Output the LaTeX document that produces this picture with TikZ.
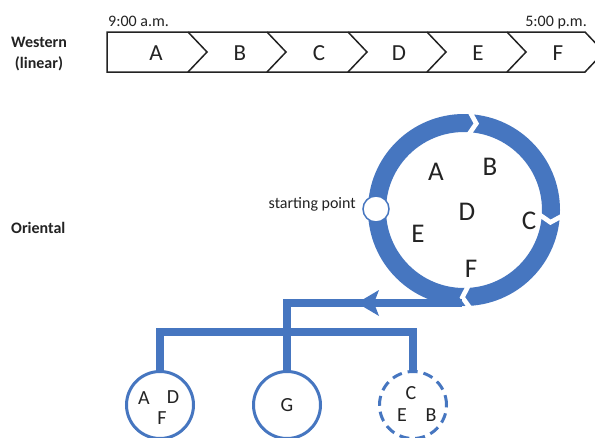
\documentclass[tikz,border=0pt]{standalone}
\usepackage{fontspec}
\setmainfont{Carlito}
\definecolor{oblue}{RGB}{70,118,192}
\definecolor{ink}{RGB}{35,35,35}
\begin{document}
\begin{tikzpicture}[x=1pt,y=1pt,
  lbl/.style={font=\fontsize{16}{18}\selectfont, text=ink, inner sep=0},
  side/.style={font=\fontsize{16}{18}\selectfont\bfseries, text=ink, inner sep=0, align=center},
  barlet/.style={font=\fontsize{23}{26}\selectfont, text=ink, inner sep=0},
  ringlet/.style={font=\fontsize{27}{30}\selectfont, text=ink, inner sep=0},
  leaflet/.style={font=\fontsize{20}{22}\selectfont, text=ink, inner sep=0},
  bline/.style={draw=ink, line width=1.5, line join=miter},
  conn/.style={draw=oblue, line width=7.5},
  leaf/.style={circle, draw=oblue, line width=3, minimum size=67, inner sep=0, outer sep=0, fill=white},
  gapcut/.style={fill=white}
]
\clip (0,0) rectangle (595,-437);
\fill[white] (0,0) rectangle (595,-437);

% side labels
\node[side] (west) at (39,-54) {Western\\[3pt](linear)};
\node[side, anchor=west] (orient) at (11,-228) {Oriental};

% linear bar
\node[lbl, anchor=base west] (t9) at (108,-26) {9:00 a.m.};
\node[lbl, anchor=base east] (t5) at (587,-26) {5:00 p.m.};
\draw[bline] (107,-32) -- (585,-32) -- (604,-52) -- (585,-72) -- (107,-72) -- cycle;
\foreach \x in {188,267,348,427,507} {
  \draw[bline] (\x,-32) -- (\x+19,-52) -- (\x,-72);
}
\node[barlet] (bA) at (156,-53) {A};
\node[barlet] (bB) at (240,-53) {B};
\node[barlet] (bC) at (319,-53) {C};
\node[barlet] (bD) at (399,-53) {D};
\node[barlet] (bE) at (478,-53) {E};
\node[barlet] (bF) at (558,-53) {F};

% ring
\node[circle, draw=oblue, line width=18, minimum size=174, inner sep=0, outer sep=0] (ring) at (464,-210) {};
\foreach \a in {87,-3,-86} {
  \fill[gapcut, shift={(ring.center)}, rotate=\a]
    (100,3) -- (87,-5) -- (74,3) -- (74,-2.5) -- (87,-10.5) -- (100,-2.5) -- cycle;
}
\node[circle, draw=oblue, line width=1.5, fill=white, minimum size=26, inner sep=0] (start) at (376,-209) {};
\node[lbl, anchor=base east] (sp) at (356,-208) {starting point};

\node[ringlet] (rA) at (436,-172) {A};
\node[ringlet] (rB) at (490,-167) {B};
\node[ringlet] (rD) at (467,-212) {D};
\node[ringlet] (rC) at (529,-221) {C};
\node[ringlet] (rE) at (418,-234) {E};
\node[ringlet] (rF) at (471,-269) {F};

% leaves
\node[leaf] (c1) at (160,-405) {};
\node[leaf] (c2) at (287,-405) {};
\node[leaf, dash pattern=on 10pt off 6pt] (c3) at (413,-405) {};

\node[leaflet] (lA) at (144,-398) {A};
\node[leaflet] (lD) at (173,-397) {D};
\node[leaflet] (lF) at (162,-418) {F};
\node[leaflet] (lG) at (287,-405) {G};
\node[leaflet] (lC) at (411,-393) {C};
\node[leaflet] (lE) at (402,-415) {E};
\node[leaflet] (lB) at (431,-415) {B};

% connectors
\coordinate (rb) at (462,-303);
\coordinate (t1) at (c2.north |- rb);
\coordinate (hl) at (c1.north |- 0,-332);
\coordinate (hr) at (c3.north |- 0,-332);
\draw[conn] (rb) -- (t1) -- (c2.north);
\draw[conn] (c1.north) -- (hl) -- (hr) -- (c3.north);
\fill[oblue] (357,-303) -- (379,-290) -- (374,-303) -- (379,-316) -- cycle;
\end{tikzpicture}
\end{document}
